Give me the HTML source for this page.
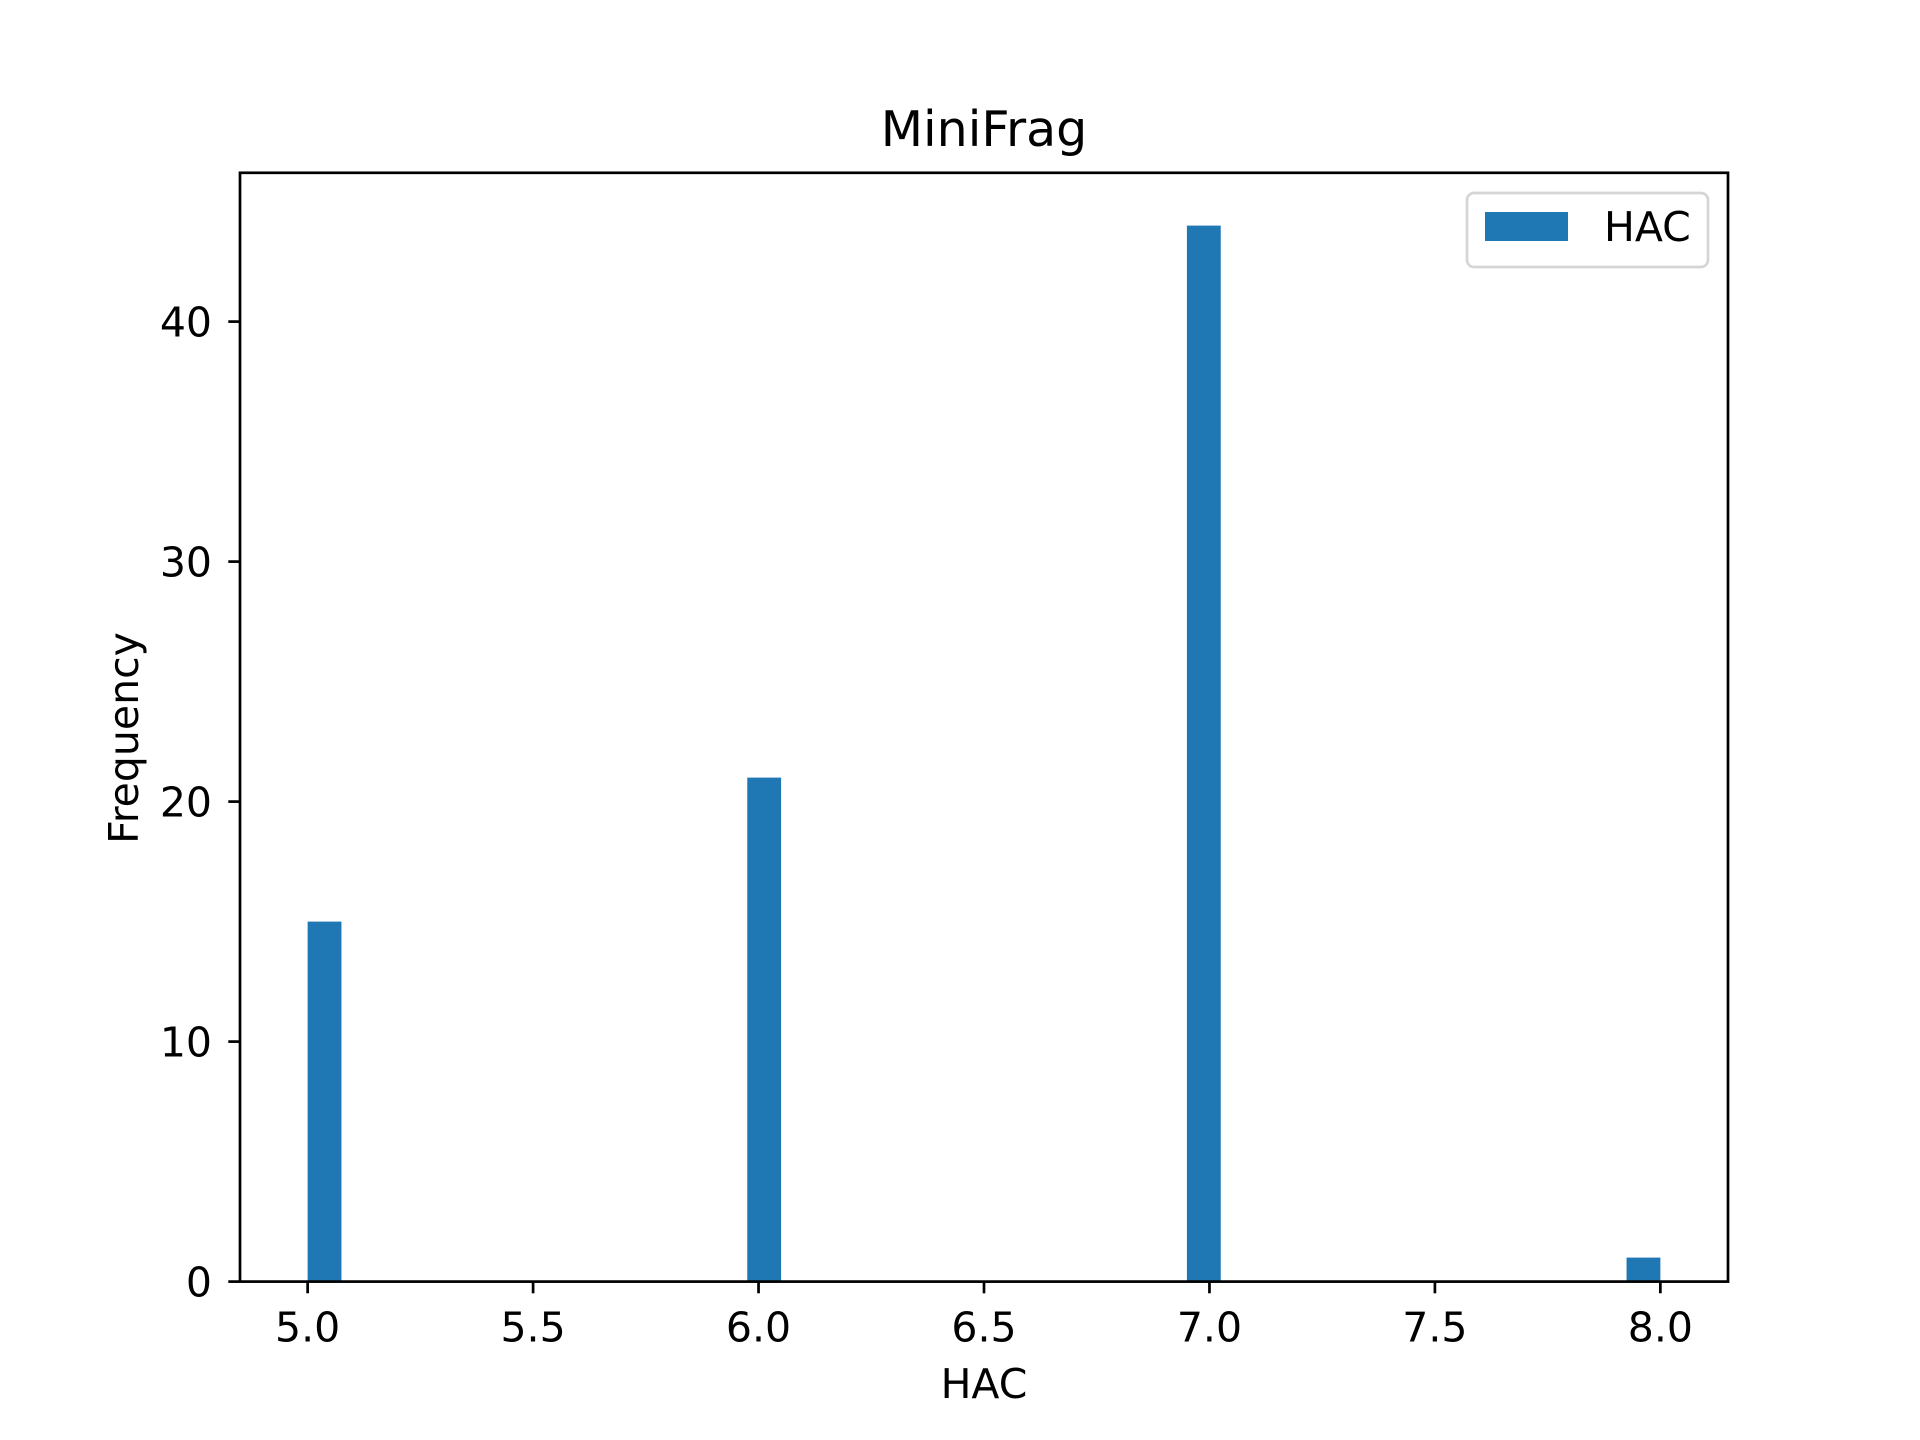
<!DOCTYPE html>
<html><head><meta charset="utf-8"><style>body{margin:0;background:#fff}svg{display:block}text{font-family:"DejaVu Sans","Liberation Sans",sans-serif;fill:#000}</style></head>
<body>
<svg id="chart" width="1920" height="1440" viewBox="0 0 1920 1440" xmlns="http://www.w3.org/2000/svg">
<rect width="1920" height="1440" fill="#fff"/>
<g id="bars"></g>
<g id="ticks"></g>
<rect x="240" y="172.8" width="1488" height="1108.8" fill="none" stroke="#000" stroke-width="2.7"/>
<text x="984" y="146" font-size="49" text-anchor="middle">MiniFrag</text>
<text x="984" y="1398" font-size="41" text-anchor="middle">HAC</text>
<text transform="translate(138,738) rotate(-90)" font-size="41" text-anchor="middle">Frequency</text>
<g>
<rect x="1467" y="193" width="241" height="74" rx="7" fill="#fff" stroke="#d5d5d5" stroke-width="2.7"/>
<rect x="1485" y="212" width="83" height="29" fill="#1f77b4"/>
<text x="1604" y="241" font-size="41">HAC</text>
</g>
</svg>
<script>
const binStarts = [5, 5.975, 6.95, 7.925];
const counts = [15, 21, 44, 1];
const xTicks = [5.0, 5.5, 6.0, 6.5, 7.0, 7.5, 8.0];
const yTicks = [0, 10, 20, 30, 40];
const binWidth = 0.075;
const X0=240,X1=1728,Y0=1281.6,Y1=172.8,xmin=4.85,xmax=8.15,ymax=46.2;
const sx=v=>X0+(v-xmin)/(xmax-xmin)*(X1-X0);
const sy=v=>Y0-v/ymax*(Y0-Y1);
const NS="http://www.w3.org/2000/svg";
const bars=document.getElementById('bars'),ticks=document.getElementById('ticks');
binStarts.forEach((b,i)=>{
  const r=document.createElementNS(NS,'rect');
  
  
  r.setAttribute('x',sx(b));r.setAttribute('width',sx(b+binWidth)-sx(b));
  r.setAttribute('y',sy(counts[i]));r.setAttribute('height',Y0-sy(counts[i]));
  r.setAttribute('fill','#1f77b4');bars.appendChild(r);
});
xTicks.forEach(t=>{
  const l=document.createElementNS(NS,'line');
  
  
  l.setAttribute('x1',sx(t));l.setAttribute('x2',sx(t));l.setAttribute('y1',Y0);l.setAttribute('y2',Y0+11.7);
  l.setAttribute('stroke','#000');l.setAttribute('stroke-width','2.7');ticks.appendChild(l);
  const tx=document.createElementNS(NS,'text');
  
  
  tx.setAttribute('x',sx(t));tx.setAttribute('y',Y0+60);tx.setAttribute('font-size','41');tx.setAttribute('text-anchor','middle');
  tx.textContent=t.toFixed(1);ticks.appendChild(tx);
});
yTicks.forEach(t=>{
  const l=document.createElementNS(NS,'line');
  
  
  l.setAttribute('x1',X0-11.7);l.setAttribute('x2',X0);l.setAttribute('y1',sy(t));l.setAttribute('y2',sy(t));
  l.setAttribute('stroke','#000');l.setAttribute('stroke-width','2.7');ticks.appendChild(l);
  const tx=document.createElementNS(NS,'text');
  
  
  tx.setAttribute('x',X0-28);tx.setAttribute('y',sy(t)+15);tx.setAttribute('font-size','41');tx.setAttribute('text-anchor','end');
  tx.textContent=t;ticks.appendChild(tx);
});
</script>
</body></html>
